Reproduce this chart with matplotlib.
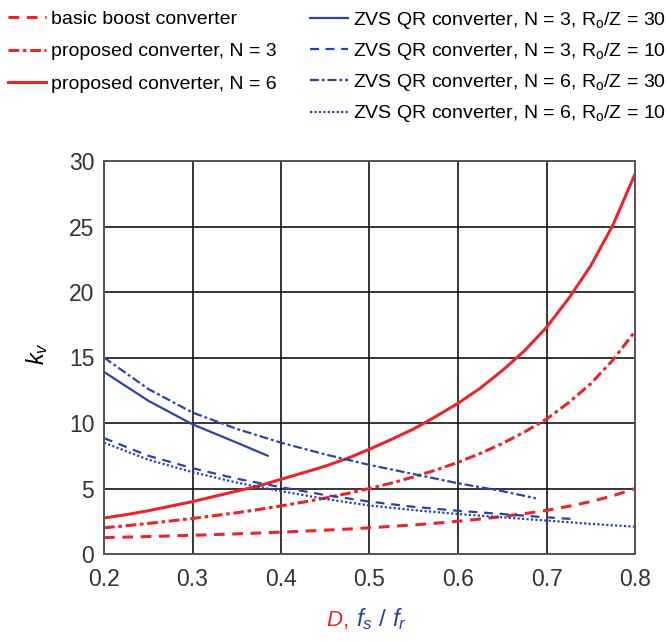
import matplotlib

matplotlib.use("Agg")
import matplotlib.pyplot as plt
from matplotlib.ticker import MultipleLocator, FuncFormatter

plt.rcParams["font.family"] = ["Liberation Sans", "DejaVu Sans"]
plt.rcParams["mathtext.fontset"] = "custom"
plt.rcParams["mathtext.rm"] = "Liberation Sans"
plt.rcParams["mathtext.it"] = "Liberation Sans:italic"

RED = "#e8262a"
BLUE = "#2a44a8"

# duty cycle D (red curves), read every 0.025
d_red = [0.2, 0.225, 0.25, 0.275, 0.3, 0.325, 0.35, 0.375, 0.4, 0.425, 0.45, 0.475, 0.5,
         0.525, 0.55, 0.575, 0.6, 0.625, 0.65, 0.675, 0.7, 0.725, 0.75, 0.775, 0.8]

kv_boost = [1.25, 1.29, 1.33, 1.38, 1.43, 1.48, 1.54, 1.6, 1.67, 1.74, 1.82, 1.9, 2.0,
            2.11, 2.22, 2.35, 2.5, 2.67, 2.86, 3.08, 3.33, 3.64, 4.0, 4.44, 5.0]
kv_prop_n3 = [2.0, 2.16, 2.33, 2.52, 2.71, 2.93, 3.15, 3.4, 3.67, 3.96, 4.27, 4.62, 5.0,
              5.42, 5.89, 6.41, 7.0, 7.67, 8.43, 9.31, 10.3, 11.55, 13.0, 14.8, 17.0]
kv_prop_n6 = [2.75, 3.0, 3.3, 3.65, 4.0, 4.4, 4.8, 5.2, 5.7, 6.2, 6.7, 7.3, 8.0,
              8.75, 9.55, 10.5, 11.5, 12.65, 14.0, 15.5, 17.3, 19.5, 22.0, 25.1, 29.0]

# normalised switching frequency fs/fr (blue curves)
d_qr_n3_30 = [0.2, 0.25, 0.3, 0.35, 0.385]
kv_qr_n3_30 = [13.9, 11.7, 9.9, 8.5, 7.5]

d_qr_n3_10 = [0.2, 0.25, 0.3, 0.35, 0.4, 0.45, 0.5, 0.55, 0.6, 0.65, 0.7, 0.734]
kv_qr_n3_10 = [8.85, 7.5, 6.55, 5.75, 5.1, 4.5, 4.0, 3.6, 3.3, 3.05, 2.8, 2.65]

d_qr_n6_30 = [0.2, 0.25, 0.3, 0.35, 0.4, 0.45, 0.5, 0.55, 0.6, 0.65, 0.688]
kv_qr_n6_30 = [15.0, 12.6, 10.8, 9.55, 8.5, 7.6, 6.8, 6.1, 5.4, 4.8, 4.25]

d_qr_n6_10 = [0.2, 0.25, 0.3, 0.35, 0.4, 0.45, 0.5, 0.55, 0.6, 0.65, 0.7, 0.75, 0.8]
kv_qr_n6_10 = [8.5, 7.2, 6.25, 5.45, 4.8, 4.2, 3.7, 3.35, 3.05, 2.8, 2.55, 2.3, 2.08]

fig = plt.figure(figsize=(6.66, 6.41), dpi=100)
ax = fig.add_axes([104 / 666, 1 - 554 / 641, 531 / 666, 393 / 641])

red_lines = [
    ax.plot(d_red, kv_boost, color=RED, lw=2.2, dashes=(3.5, 2.5), label="basic boost converter")[0],
    ax.plot(d_red, kv_prop_n3, color=RED, lw=2.2, dashes=(3.5, 1.2, 1.2, 1.2), label="proposed converter, N = 3")[0],
    ax.plot(d_red, kv_prop_n6, color=RED, lw=2.2, label="proposed converter, N = 6")[0],
]
blue_lines = [
    ax.plot(d_qr_n3_30, kv_qr_n3_30, color=BLUE, lw=1.6,
            label="ZVS QR converter, N = 3, R$_\\mathrm{o}$/Z = 30")[0],
    ax.plot(d_qr_n3_10, kv_qr_n3_10, color=BLUE, lw=1.6, dashes=(4, 3),
            label="ZVS QR converter, N = 3, R$_\\mathrm{o}$/Z = 10")[0],
    ax.plot(d_qr_n6_30, kv_qr_n6_30, color=BLUE, lw=1.6, dashes=(4, 1.3, 1.3, 1.3),
            label="ZVS QR converter, N = 6, R$_\\mathrm{o}$/Z = 30")[0],
    ax.plot(d_qr_n6_10, kv_qr_n6_10, color=BLUE, lw=1.6, dashes=(1.0, 1.0),
            label="ZVS QR converter, N = 6, R$_\\mathrm{o}$/Z = 10")[0],
]

ax.set_xlim(0.2, 0.8)
ax.set_ylim(0, 30)
ax.xaxis.set_major_locator(MultipleLocator(0.1))
ax.yaxis.set_major_locator(MultipleLocator(5))
ax.xaxis.set_major_formatter(FuncFormatter(lambda v, p: f"{v:.1f}"))
ax.grid(True, color="black", lw=1.1)
ax.set_axisbelow(True)
ax.tick_params(length=0, labelsize=16.5, colors="#333333")
ax.tick_params(axis="x", pad=10)
ax.tick_params(axis="y", pad=7)
for sp in ax.spines.values():
    sp.set_color("#555555")
    sp.set_linewidth(1.4)

fig.text(37 / 666, 1 - 354 / 641, "$k_v$", rotation=90, ha="center", va="center", fontsize=17)
fig.text(326 / 666, 1 - 626 / 641, "$D$,", color=RED, ha="left", va="baseline", fontsize=16)
fig.text(356 / 666, 1 - 626 / 641, "$f_s$ / $f_r$", color=BLUE, ha="left", va="baseline", fontsize=17.5)

leg_kw = dict(frameon=False, fontsize=14, handlelength=1.95, handletextpad=0.28,
              borderaxespad=0, borderpad=0)
leg1 = fig.legend(handles=red_lines, loc="upper left", bbox_to_anchor=(8 / 666, 1 - 10 / 641),
                  labelspacing=0.78, **leg_kw)
leg2 = fig.legend(handles=blue_lines, loc="upper left", bbox_to_anchor=(310 / 666, 1 - 10 / 641),
                  labelspacing=0.52, **leg_kw)

fig.savefig("out.png", dpi=100)
